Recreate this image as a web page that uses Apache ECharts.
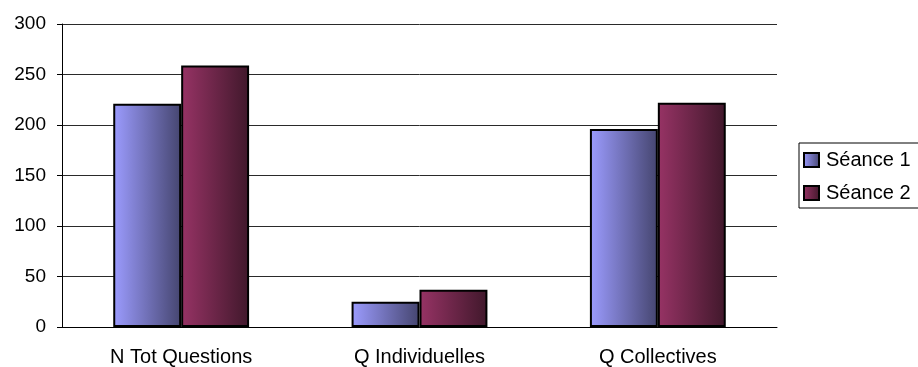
<!DOCTYPE html>
<html>
<head>
<meta charset="utf-8">
<script src="https://cdn.jsdelivr.net/npm/echarts@6/dist/echarts.min.js"></script>
<style>
  html, body { margin: 0; padding: 0; background: #fff; }
  #chart { width: 918px; height: 367px; }
</style>
</head>
<body>
<div id="chart"></div>
<script>
// Question counts per category for each session
const categories = ['N Tot Questions', 'Q Individuelles', 'Q Collectives'];
const seance1 = [221, 25, 196];
const seance2 = [259, 37, 222];
const seriesNames = ['Séance 1', 'Séance 2'];
const yTicks = { min: 0, max: 300, interval: 50 };

function hGradient(c0, c1) {
  return new echarts.graphic.LinearGradient(0, 0, 1, 0, [
    { offset: 0, color: c0 },
    { offset: 1, color: c1 }
  ]);
}

const chart = echarts.init(document.getElementById('chart'), null, { renderer: 'canvas' });
const font = 'Arial, "Liberation Sans", sans-serif';

chart.setOption({
  animation: false,
  backgroundColor: '#fff',
  grid: { left: 62, top: 24, width: 715, height: 304, containLabel: false },
  legend: {
    orient: 'vertical',
    left: 799,
    top: 143,
    padding: [7, 40, 5, 4],
    itemGap: 13,
    itemWidth: 15,
    itemHeight: 14,
    icon: 'rect',
    borderColor: '#000',
    borderWidth: 1,
    textStyle: { fontFamily: font, fontSize: 20, color: '#000', padding: [0, 0, 0, 2] },
    data: seriesNames
  },
  xAxis: {
    type: 'category',
    data: categories,
    axisLine: { lineStyle: { color: '#000', width: 1 } },
    axisTick: { show: false },
    axisLabel: { fontFamily: font, fontSize: 20, color: '#000', margin: 20 },
    splitLine: { show: false }
  },
  yAxis: {
    type: 'value',
    min: yTicks.min,
    max: yTicks.max,
    interval: yTicks.interval,
    axisLine: { show: true, lineStyle: { color: '#000', width: 1 } },
    axisTick: { show: true, length: 5, lineStyle: { color: '#000' } },
    axisLabel: { fontFamily: font, fontSize: 19, color: '#000', margin: 16 },
    splitLine: { show: true, lineStyle: { color: '#2a2a2a', width: 1 } }
  },
  series: [
    {
      name: seriesNames[0],
      type: 'bar',
      data: seance1,
      barGap: '0%',
      barCategoryGap: '43%',
      itemStyle: {
        color: hGradient('#9c9cff', '#45456f'),
        borderColor: '#000',
        borderWidth: 2
      }
    },
    {
      name: seriesNames[1],
      type: 'bar',
      data: seance2,
      barGap: '0%',
      barCategoryGap: '43%',
      itemStyle: {
        color: hGradient('#973365', '#40182b'),
        borderColor: '#000',
        borderWidth: 2
      }
    }
  ]
});
</script>
</body>
</html>
